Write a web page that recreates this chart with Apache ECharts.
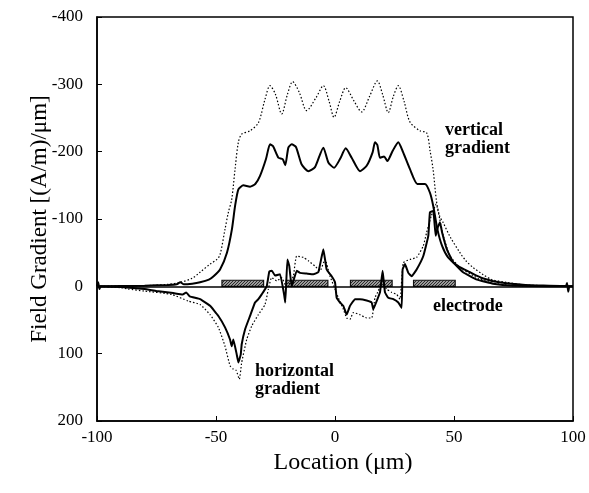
<!DOCTYPE html>
<html>
<head>
<meta charset="utf-8">
<script src="https://cdn.jsdelivr.net/npm/echarts@6/dist/echarts.min.js"></script>
<style>
html,body{margin:0;padding:0;background:#fff;}
#chart{width:589px;height:493px;}
</style>
</head>
<body>
<div id="chart"></div>
<script>
// ---- data ----
const xTicks = [-100, -50, 0, 50, 100];
const yTicks = [-400, -300, -200, -100, 0, 100, 200];

// Vertical gradient, solid curve [location, gradient]
const verticalSolid = [
  [-100,0],[-80,-1],[-70,-2],[-66.5,-3],[-65,-6],[-63.5,-3],[-60,-4],[-56.7,-6],[-53,-10],[-51,-15],
  [-48.3,-25],[-45.4,-50],[-43.3,-85],[-42,-119],[-40.6,-144],[-38.5,-150],[-35.7,-148],[-33.5,-152],
  [-31.5,-164],[-29,-189],[-27.3,-211],[-26,-208],[-23.8,-191],[-22,-189],[-20.9,-180],[-19.6,-206],
  [-18.2,-211],[-16.4,-207],[-14,-181],[-11.2,-171],[-8.4,-177],[-4.9,-206],[-2.8,-184],[-0.4,-176],
  [2.1,-189],[4.5,-205],[7,-191],[10.5,-171],[13.3,-179],[15.8,-199],[16.8,-214],[17.8,-210],[18.9,-191],
  [20.6,-193],[22,-186],[24.2,-201],[26.6,-214],[28.4,-201],[31.5,-174],[34.6,-152],[37.8,-152],
  [39.9,-139],[41.3,-119],[43,-85],[45,-60],[47.5,-43],[51.7,-30],[56.7,-21],[62,-12],[69,-6],
  [80,-2],[90,-1],[100,0]
];

// Vertical gradient, dotted curve
const verticalDotted = [
  [-100,0],[-80,-1],[-70,-3],[-65,-6],[-60,-12],[-56.7,-21],[-52.5,-33],[-49.6,-40],[-48.3,-47],
  [-46.2,-85],[-44.8,-110],[-43.4,-129],[-42,-174],[-40.6,-214],[-39.2,-226],[-35.7,-231],[-32.2,-243],
  [-29.4,-278],[-27.3,-298],[-25,-285],[-22.4,-256],[-20,-285],[-17.8,-304],[-15,-288],[-11.9,-261],
  [-8,-280],[-4.9,-298],[-2.5,-275],[-0.4,-251],[2,-275],[4.5,-295],[8,-275],[11.2,-259],[14.5,-282],
  [17.8,-305],[20,-285],[22.4,-258],[24.5,-282],[26.6,-298],[29,-275],[31.5,-244],[35.7,-231],
  [38.5,-228],[40,-200],[41.2,-174],[42.7,-125],[44,-104],[45.4,-95],[48.3,-74],[52.5,-50],[55,-38],
  [58,-28],[62,-18],[66,-10],[72,-6],[80,-2],[90,-1],[100,0]
];

// Horizontal gradient, solid curve
const horizontalSolid = [
  [-100,0],[-99.5,-6],[-99,4],[-98.5,0],[-90,1],[-80,4],[-75,7],[-68,10],[-64,12],[-62.5,9],[-61,15],
  [-56.7,19],[-52.5,29],[-49,44],[-46.2,61],[-44.1,79],[-43.4,89],[-42.7,79],[-41.3,101],[-40.6,113],
  [-39.6,101],[-39.2,86],[-37.8,64],[-35.7,44],[-33.6,24],[-32.2,19],[-30.8,12],[-28.7,0],[-27.6,-22],
  [-26.5,-23],[-25.2,-16],[-23.1,-18],[-21.4,12],[-20.9,24],[-20,-40],[-19.2,-30],[-18.2,0],[-16.1,-23],
  [-14.7,-20],[-11.9,-19],[-9.1,-18],[-7,-21],[-4.9,-55],[-3.5,-25],[-1.4,-15],[0,-6],[0.7,17],[2.1,24],
  [3.5,29],[4.9,42],[6.3,29],[8.4,19],[10.5,19],[13.3,21],[15.4,24],[16.1,34],[17.5,22],[18.9,9],
  [20,-23],[21,9],[22.4,17],[24.5,19],[26.6,24],[28,32],[28.4,-25],[29.4,-33],[30.8,-20],[32.2,-15],
  [34.3,-25],[37.1,-45],[39.2,-75],[39.9,-110],[41.3,-112],[42.3,-75],[43.2,-88],[44.1,-95],[45,-80],
  [47,-55],[49.6,-36],[53.8,-21],[59.7,-10],[66.4,-4],[75,-1],[90,0],[97,0],[97.5,-5],[98,8],[98.5,0],[100,0]
];

// Horizontal gradient, dotted curve
const horizontalDotted = [
  [-100,0],[-90,2],[-87,4],[-80,7],[-68.6,12],[-61.6,22],[-56.7,27],[-52.5,42],[-49,61],[-46.2,89],
  [-44.1,118],[-42.7,123],[-41.5,125],[-40.2,138],[-39.2,113],[-37.1,79],[-35,59],[-32.2,42],[-29.4,27],
  [-28,4],[-26.6,-13],[-24.5,-8],[-22.4,-13],[-20.5,0],[-19,-5],[-17.5,-15],[-16.1,-45],[-13.3,-43],
  [-11.2,-38],[-8.4,-30],[-6.3,-23],[-4.2,-40],[-2.1,-15],[0,4],[1.4,17],[3.5,34],[4.9,47],[6.3,49],
  [7.7,39],[10.5,42],[13.3,47],[15.4,47],[16.8,17],[18.2,7],[19.6,-5],[21.7,4],[23.8,9],[25.9,12],
  [27.3,19],[28.7,-35],[31.5,-40],[34.3,-43],[37.1,-60],[38.5,-80],[40.5,-105],[42.5,-122],[44,-100],
  [45.5,-75],[48.3,-45],[52.5,-28],[60,-12],[66,-5],[75,-1],[100,0]
];

// Electrodes
const electrodeStart = [-47.5, -20.5, 6.5, 33];
const electrodeEnd = [-30, -3, 24, 50.5];
const electrodeTop = -9;

// ---- chart ----
const FONT = 'Liberation Serif';
const chart = echarts.init(document.getElementById('chart'), null, {renderer: 'canvas'});

// hatch pattern for electrodes
const pc = document.createElement('canvas');
pc.width = 3; pc.height = 3;
const pctx = pc.getContext('2d');
pctx.fillStyle = '#9a9a9a'; pctx.fillRect(0,0,3,3);
pctx.fillStyle = '#2a2a2a'; pctx.fillRect(0,0,1,1); pctx.fillRect(2,1,1,1); pctx.fillRect(1,2,1,1);

const electrodeData = electrodeStart.map((s, i) => [s, electrodeEnd[i], electrodeTop]);

const solidStyle = {color: '#000', width: 2};
const dottedStyle = {color: '#000', width: 1.2, type: [1.5, 2]};

chart.setOption({
  animation: false,
  backgroundColor: '#fff',
  grid: {left: 97, right: 16, top: 17, bottom: 72, show: true, borderColor: '#000', borderWidth: 1.5, containLabel: false},
  xAxis: {
    type: 'value', min: xTicks[0], max: xTicks[xTicks.length-1], interval: 50,
    axisLine: {show: true, onZero: false, lineStyle: {color: '#000', width: 1.5}},
    axisTick: {show: true, inside: true, length: 5, lineStyle: {color: '#000', width: 1}},
    axisLabel: {fontFamily: FONT, fontSize: 17, color: '#000', margin: 8},
    splitLine: {show: false},
    name: 'Location (\u03bcm)', nameLocation: 'middle', nameGap: 30,
    nameTextStyle: {fontFamily: FONT, fontSize: 24, color: '#000', padding: [0, 0, 0, 16]}
  },
  yAxis: {
    type: 'value', inverse: true, min: yTicks[0], max: yTicks[yTicks.length-1], interval: 100,
    axisLine: {show: true, onZero: false, lineStyle: {color: '#000', width: 1.5}},
    axisTick: {show: true, inside: true, length: 5, lineStyle: {color: '#000', width: 1}},
    axisLabel: {fontFamily: FONT, fontSize: 17, color: '#000', margin: 14},
    splitLine: {show: false},
    name: 'Field Gradient [(A/m)/\u03bcm]', nameLocation: 'middle', nameGap: 46, nameMoveOverlap: false,
    nameTextStyle: {fontFamily: FONT, fontSize: 23, color: '#000'}
  },
  series: [
    {
      type: 'custom', z: 1,
      encode: {x: [0, 1], y: 2},
      data: electrodeData,
      renderItem: function (params, api) {
        const p1 = api.coord([api.value(0), 0]);
        const p2 = api.coord([api.value(1), api.value(2)]);
        return {
          type: 'rect',
          shape: {x: p1[0], y: Math.min(p1[1], p2[1]), width: p2[0] - p1[0], height: Math.abs(p1[1] - p2[1])},
          style: {fill: {image: pc, repeat: 'repeat'}, stroke: '#111', lineWidth: 1.2}
        };
      }
    },
    {type: 'line', name: 'vertical dotted', data: verticalDotted, showSymbol: false, smooth: 0.3, lineStyle: dottedStyle, z: 3,
     markLine: {silent: true, symbol: 'none', label: {show: false}, lineStyle: {color: '#000', width: 1.5, type: 'solid'}, data: [{yAxis: 0}]}},
    {type: 'line', name: 'vertical solid', data: verticalSolid, showSymbol: false, smooth: 0.2, lineStyle: solidStyle, z: 4},
    {type: 'line', name: 'horizontal dotted', data: horizontalDotted, showSymbol: false, smooth: 0.15, lineStyle: dottedStyle, z: 3},
    {type: 'line', name: 'horizontal solid', data: horizontalSolid, showSymbol: false, smooth: 0.1, lineStyle: solidStyle, z: 4}
  ],
  graphic: [
    {type: 'text', left: 445, top: 121, style: {text: 'vertical\ngradient', font: 'bold 18px "Liberation Serif"', fill: '#000', lineHeight: 18}},
    {type: 'text', left: 255, top: 362, style: {text: 'horizontal\ngradient', font: 'bold 18px "Liberation Serif"', fill: '#000', lineHeight: 18}},
    {type: 'text', left: 433, top: 297, style: {text: 'electrode', font: 'bold 18px "Liberation Serif"', fill: '#000'}}
  ]
});
</script>
</body>
</html>
